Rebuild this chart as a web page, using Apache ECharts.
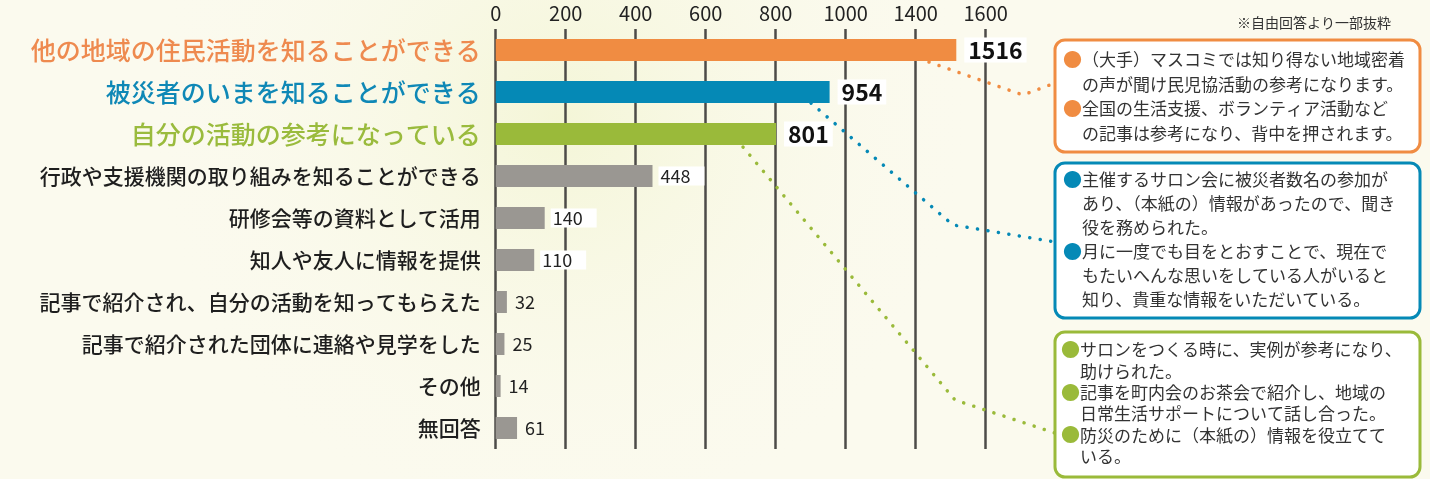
<!DOCTYPE html>
<html>
<head>
<meta charset="utf-8">
<script src="https://cdn.jsdelivr.net/npm/echarts@6/dist/echarts.min.js"></script>
<style>
  html, body { margin: 0; padding: 0; background: #fbfaee; }
  #main { width: 1430px; height: 479px; }
</style>
</head>
<body>
<div id="main"></div>
<script>
// 項目とその回答数
const categories = [
    '他の地域の住民活動を知ることができる',
    '被災者のいまを知ることができる',
    '自分の活動の参考になっている',
    '行政や支援機関の取り組みを知ることができる',
    '研修会等の資料として活用',
    '知人や友人に情報を提供',
    '記事で紹介され、自分の活動を知ってもらえた',
    '記事で紹介された団体に連絡や見学をした',
    'その他',
    '無回答'
];
const counts = [1516, 954, 801, 448, 140, 110, 32, 25, 14, 61];
const tickLabels = ['0', '200', '400', '600', '800', '1000', '1400', '1600'];

// 自由回答（吹き出し）
const noteHeader = '※自由回答より一部抜粋';
const orangeNotes = [
    ['（大手）マスコミでは知り得ない地域密着', 'の声が聞け民児協活動の参考になります。'],
    ['全国の生活支援、ボランティア活動など', 'の記事は参考になり、背中を押されます。']
];
const blueNotes = [
    ['主催するサロン会に被災者数名の参加が', 'あり、（本紙の）情報があったので、聞き', '役を務められた。'],
    ['月に一度でも目をとおすことで、現在で', 'もたいへんな思いをしている人がいると', '知り、貴重な情報をいただいている。']
];
const greenNotes = [
    ['サロンをつくる時に、実例が参考になり、', '助けられた。'],
    ['記事を町内会のお茶会で紹介し、地域の', '日常生活サポートについて話し合った。'],
    ['防災のために（本紙の）情報を役立てて', 'いる。']
];

const FONT = '"Noto Sans CJK JP", "Noto Sans", sans-serif';
const ORANGE = '#f08c42';
const BLUE = '#0589b6';
const GREEN = '#9aba3a';
const GRAY_BAR = '#9a9792';
const barColors = [ORANGE, BLUE, GREEN];
const labelKeys = ['o', 'b', 'g'];
const tickValues = tickLabels.map(Number);

const chart = echarts.init(document.getElementById('main'));

function bigLabel() {
    return {
        show: true, position: 'right', distance: 8,
        fontFamily: FONT, fontSize: 23, fontWeight: 'bold', color: '#111',
        backgroundColor: '#fff', padding: [2, 4, 0, 4]
    };
}
function smallLabel(boxed) {
    return {
        show: true, position: 'right', distance: 6,
        fontFamily: FONT, fontSize: 18, color: '#222',
        backgroundColor: boxed ? '#fff' : 'transparent',
        padding: [1, 14, 0, 2]
    };
}

// 吹き出しの作成
function noteBox(notes, color, box, firstY, lineH, textX) {
    const els = [{
        type: 'rect', z: 10,
        shape: { x: box[0], y: box[1], width: box[2], height: box[3], r: 10 },
        style: { fill: '#fff', stroke: color, lineWidth: 3 }
    }];
    let row = 0;
    notes.forEach(note => {
        note.forEach((line, j) => {
            const y = firstY + row * lineH;
            if (j === 0) {
                els.push({
                    type: 'text', z: 11, x: textX - 19, y: y,
                    style: { text: '●', fill: color, fontSize: 19, fontFamily: FONT, verticalAlign: 'middle' }
                });
            }
            els.push({
                type: 'text', z: 11, x: textX, y: y,
                style: { text: line, fill: '#333', fontSize: 17, fontFamily: FONT, verticalAlign: 'middle' }
            });
            row++;
        });
    });
    return els;
}

function connector(points, color) {
    return {
        type: 'polyline', z: 9,
        shape: { points: points },
        style: { stroke: color, lineWidth: 3.5, lineDash: [0.1, 10.5], lineCap: 'round', fill: null }
    };
}

const graphics = [
    {
        type: 'circle', z: -10, silent: true,
        shape: { cx: 560, cy: 120, r: 420 },
        style: {
            fill: {
                type: 'radial', x: 0.5, y: 0.5, r: 0.5,
                colorStops: [
                    { offset: 0, color: 'rgba(238,242,196,0.55)' },
                    { offset: 1, color: 'rgba(251,250,238,0)' }
                ]
            }
        }
    },
    {
        type: 'text', z: 11, x: 1237, y: 23,
        style: { text: noteHeader, fill: '#333', fontSize: 14, fontFamily: FONT, verticalAlign: 'middle' }
    },
    connector([[929, 62], [1023, 95], [1055, 83]], ORANGE),
    connector([[811, 103], [953, 225], [1055, 242]], BLUE),
    connector([[743, 147], [955, 400], [1055, 433]], GREEN)
]
    .concat(noteBox(orangeNotes, ORANGE, [1055, 40, 365, 112], 60, 24.4, 1082))
    .concat(noteBox(blueNotes, BLUE, [1055, 163, 365, 155], 180, 24, 1082))
    .concat(noteBox(greenNotes, GREEN, [1055, 332, 365, 145], 350, 21.3, 1080));

const option = {
    backgroundColor: '#fbfaee',
    animation: false,
    grid: { left: 495.7, right: 444.3, top: 29, height: 420, outerBoundsMode: 'none' },
    xAxis: {
        type: 'value',
        position: 'top',
        min: 0,
        max: 1600,
        interval: 200,
        // 目盛りは 1000 の次が 1400（1200 を省略）
        breaks: [{ start: 1100, end: 1300, gap: 0 }],
        breakArea: { show: false, itemStyle: { opacity: 0, borderWidth: 0 } },
        axisLine: { show: false },
        axisTick: { show: false, customValues: tickValues },
        axisLabel: {
            margin: 6,
            customValues: tickValues,
            fontFamily: FONT, fontSize: 20, color: '#222',
            formatter: v => tickLabels.includes(String(v)) ? String(v) : ''
        },
        splitLine: { show: true, lineStyle: { color: '#4d4b48', width: 2.5 } }
    },
    yAxis: {
        type: 'category',
        inverse: true,
        data: categories,
        axisLine: { show: false },
        axisTick: { show: false },
        axisLabel: {
            margin: 15,
            formatter: (v, i) => '{' + (labelKeys[i] || 'k') + '|' + v + '}',
            rich: {
                o: { color: '#ee8a4f', fontSize: 25, fontWeight: 500, fontFamily: FONT },
                b: { color: '#0f88b6', fontSize: 25, fontWeight: 500, fontFamily: FONT },
                g: { color: '#9abb3d', fontSize: 25, fontWeight: 500, fontFamily: FONT },
                k: { color: '#1e1e1e', fontSize: 21, fontWeight: 500, fontFamily: FONT }
            }
        }
    },
    series: [{
        type: 'bar',
        barWidth: 22,
        z: 3,
        data: counts.map((v, i) => ({
            value: v,
            itemStyle: { color: barColors[i] || GRAY_BAR },
            label: i < 3 ? bigLabel() : smallLabel(i < 6)
        }))
    }],
    graphic: graphics
};

chart.setOption(option);
</script>
</body>
</html>
